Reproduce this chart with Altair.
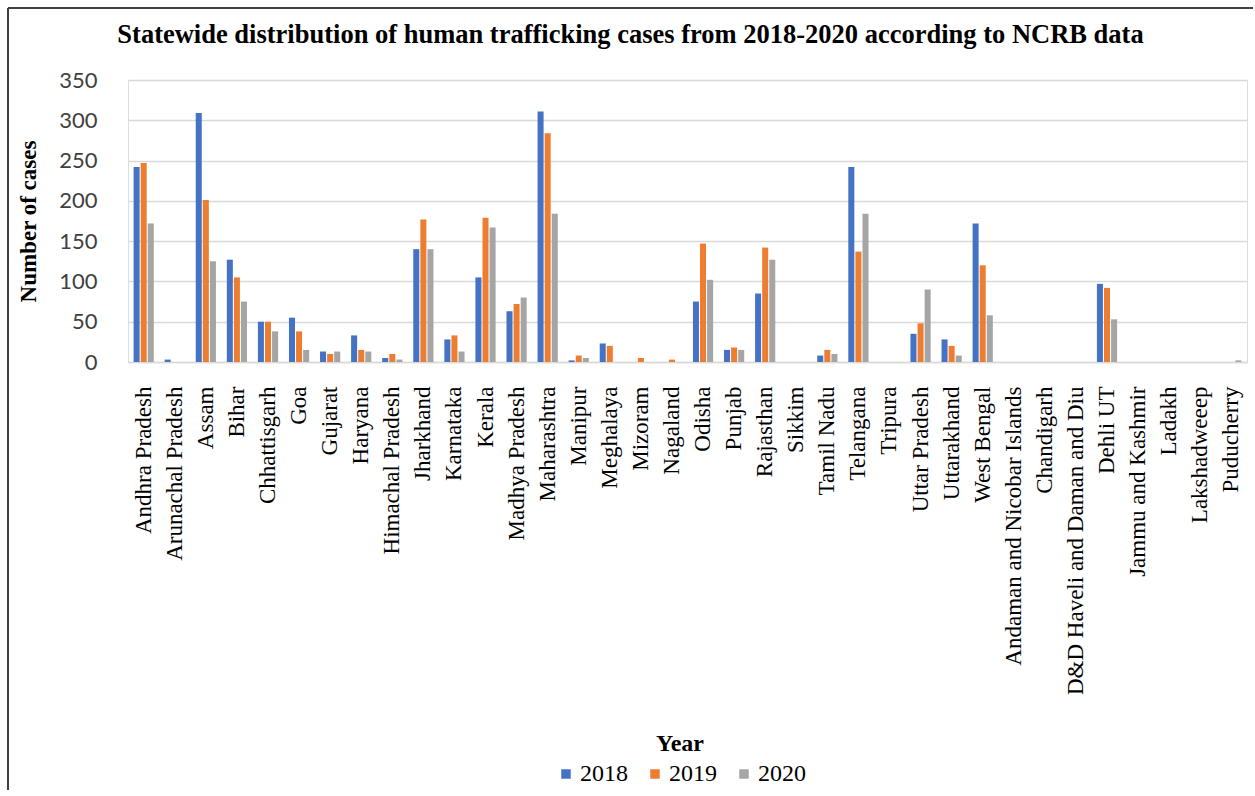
import altair as alt
import pandas as pd

states = [
    "Andhra Pradesh", "Arunachal Pradesh", "Assam", "Bihar", "Chhattisgarh", "Goa",
    "Gujarat", "Haryana", "Himachal Pradesh", "Jharkhand", "Karnataka", "Kerala",
    "Madhya Pradesh", "Maharashtra", "Manipur", "Meghalaya", "Mizoram", "Nagaland",
    "Odisha", "Punjab", "Rajasthan", "Sikkim", "Tamil Nadu", "Telangana", "Tripura",
    "Uttar Pradesh", "Uttarakhand", "West Bengal", "Andaman and Nicobar Islands",
    "Chandigarh", "D&D Haveli and Daman and Diu", "Dehli UT", "Jammu and Kashmir",
    "Ladakh", "Lakshadweeep", "Puducherry",
]
years = ["2018", "2019", "2020"]
cases_2018 = [242, 3, 309, 127, 50, 55, 13, 33, 5, 140, 28, 105, 63, 311, 2, 23, 0, 0,
              75, 15, 85, 0, 8, 242, 0, 35, 28, 172, 0, 0, 0, 97, 0, 0, 0, 0]
cases_2019 = [247, 0, 201, 105, 50, 38, 10, 15, 10, 177, 33, 179, 72, 284, 8, 20, 5, 3,
              147, 18, 142, 0, 15, 137, 0, 48, 20, 120, 0, 0, 0, 92, 0, 0, 0, 0]
cases_2020 = [172, 0, 125, 75, 38, 15, 13, 13, 3, 140, 13, 167, 80, 184, 5, 0, 0, 0,
              102, 15, 127, 0, 10, 184, 0, 90, 8, 58, 0, 0, 0, 53, 0, 0, 0, 2]
colors = ["#4472C4", "#ED7D31", "#A5A5A5"]

rows = []
for yr, vals in zip(years, [cases_2018, cases_2019, cases_2020]):
    for s, v in zip(states, vals):
        rows.append({"State": s, "Year": yr, "Cases": v})
df = pd.DataFrame(rows)

serif = "Liberation Serif"

bars = alt.Chart(df).mark_bar().encode(
    x=alt.X("State:N", sort=states,
            scale=alt.Scale(paddingInner=0.35, paddingOuter=0.18),
            axis=alt.Axis(title=None, labelAngle=-90, labelAlign="right",
                          labelBaseline="middle", labelPadding=24, labelFont=serif,
                          labelFontSize=23, labelColor="#000000", labelLimit=0,
                          ticks=False, domainColor="#d9d9d9", domainWidth=1.5)),
    xOffset=alt.XOffset("Year:N", sort=years, scale=alt.Scale(paddingInner=0.15)),
    y=alt.Y("Cases:Q", scale=alt.Scale(domain=[0, 350], nice=False),
            axis=alt.Axis(values=list(range(0, 351, 50)), title="Number of cases",
                          titleFont=serif, titleFontSize=23, titleFontWeight="bold",
                          titleColor="#000000", titlePadding=18,
                          labelFont="Lato", labelFontSize=22, labelColor="#404040",
                          labelPadding=31, domain=False, ticks=False,
                          gridColor="#d9d9d9", gridWidth=1.5)),
    color=alt.Color("Year:N", sort=years,
                    scale=alt.Scale(domain=years, range=colors),
                    legend=alt.Legend(orient="none", legendX=426, legendY=652,
                                      direction="horizontal", title="Year",
                                      titleAnchor="middle", titleOrient="top",
                                      titleFont=serif, titleFontSize=24,
                                      titleFontWeight="bold", titleColor="#000000",
                                      labelFont=serif, labelFontSize=24,
                                      labelColor="#000000", symbolType="square",
                                      symbolSize=90, symbolStrokeWidth=0,
                                      labelOffset=2, columnPadding=15, padding=0,
                                      titlePadding=6)),
)

frame_df = pd.DataFrame({"k": [0]})
left_border = alt.Chart(frame_df).mark_rule(color="#404040", strokeWidth=2).encode(
    x=alt.value(-120), y=alt.value(-72), y2=alt.value(710))
top_border = alt.Chart(frame_df).mark_rule(color="#404040", strokeWidth=2).encode(
    x=alt.value(-120), x2=alt.value(1125), y=alt.value(-72))

chart = alt.layer(bars, left_border, top_border).properties(
    width=1119, height=282,
    padding={"left": 7, "top": 7, "right": 0, "bottom": 0},
    title=alt.TitleParams(
        "Statewide distribution  of human trafficking cases from 2018-2020 according to NCRB data",
        font=serif, fontSize=26.5, fontWeight="bold", color="#000000",
        anchor="middle", frame="bounds", offset=-41),
).configure_view(stroke=None).configure(background="white").configure_legend(
    labelFont=serif, labelFontSize=24, titleFont=serif)

chart.save("out.html", embed_options={"renderer": "svg", "actions": False})
